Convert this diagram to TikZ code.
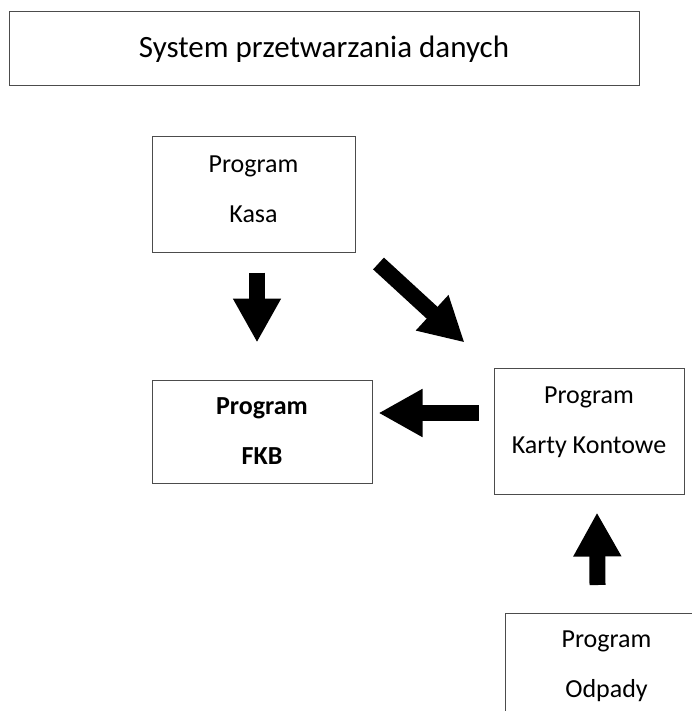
\documentclass[tikz,border=0pt]{standalone}
\usepackage{fontspec}
\setmainfont{Carlito}
\usetikzlibrary{arrows.meta}
\tikzset{
    box/.style={draw=black!70,line width=1pt,rectangle,inner sep=0pt},
    boxtext/.style={align=center,font=\fontsize{26}{50}\selectfont},
    blockarrow/.style={line width=16pt,-{Triangle[width=45pt,length=44pt]}}
}
\begin{document}
\begin{tikzpicture}[x=1pt,y=-1pt]
    \useasboundingbox (0,0) rectangle (692,711);
    \node[box,minimum width=630pt,minimum height=74pt,font=\fontsize{31}{36}\selectfont] (system) at (324,49) {System przetwarzania danych};
    \node[box,minimum width=203pt,minimum height=115pt] (kasa) at (253.5,194.5) {};
    \node[boxtext] (kasatxt) at ([yshift=-53pt]kasa.north) {Program\\Kasa};
    \node[box,minimum width=220pt,minimum height=103pt,boxtext,font=\fontsize{26}{50}\selectfont\bfseries] (fkb) at (262,431.5) {Program\\FKB};
    \node[box,minimum width=190pt,minimum height=126pt] (karty) at (589,431) {};
    \node[boxtext] (kartytxt) at ([yshift=-54.5pt]karty.north) {Program\\Karty Kontowe};
    \node[box,anchor=north west,minimum width=202pt,minimum height=140pt] (odpady) at (505,613) {};
    \node[boxtext] (odpadytxt) at ([yshift=-53pt]odpady.north) {Program\\Odpady};
    \draw[blockarrow] ([xshift=3.5pt,yshift=-20pt]kasa.south) -- ([xshift=-5pt,yshift=37pt]fkb.north);
    \draw[blockarrow] ([xshift=23pt,yshift=-11pt]kasa.south east) -- ([xshift=-29pt,yshift=25pt]karty.north west);
    \draw[blockarrow] ([xshift=-15pt,yshift=18pt]karty.west) -- ([xshift=6pt,yshift=18.5pt]fkb.east);
    \draw[blockarrow] ([xshift=-9pt,yshift=28pt]odpady.north) -- ([xshift=8pt,yshift=-18pt]karty.south);
\end{tikzpicture}
\end{document}
